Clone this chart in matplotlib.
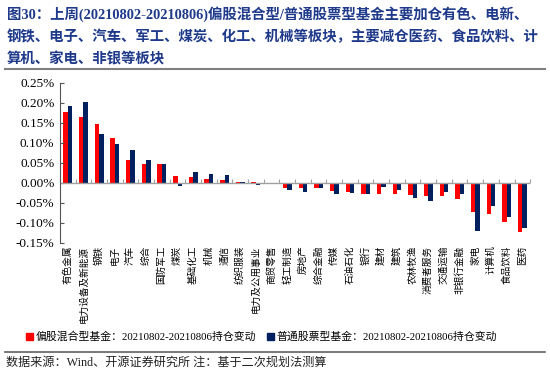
import numpy as np
import matplotlib
matplotlib.use("Agg")
import matplotlib.pyplot as plt
from matplotlib.patches import Patch
from matplotlib.ticker import FuncFormatter

# industries, in chart order
industries = ["有色金属", "电力设备及新能源", "钢铁", "电子", "汽车", "综合", "国防军工",
              "煤炭", "基础化工", "机械", "通信", "纺织服装", "电力及公用事业", "商贸零售",
              "轻工制造", "房地产", "综合金融", "传媒", "石油石化", "银行", "建材", "建筑",
              "农林牧渔", "消费者服务", "交通运输", "非银行金融", "家电", "计算机",
              "食品饮料", "医药"]

# weekly position change, in percent
hybrid = [0.176, 0.165, 0.148, 0.111, 0.058, 0.048, 0.048, 0.017, 0.014, 0.009,
          0.007, 0.002, 0.002, -0.004, -0.012, -0.0125, -0.0125, -0.020, -0.023, -0.028,
          -0.028, -0.028, -0.030, -0.033, -0.033, -0.040, -0.074, -0.077, -0.099, -0.124]
stock = [0.191, 0.2025, 0.121, 0.098, 0.083, 0.057, 0.048, -0.008, 0.026, 0.022,
         0.019, 0.002, -0.0065, -0.001, -0.018, -0.022, -0.013, -0.028, -0.025, -0.028,
         -0.010, -0.019, -0.038, -0.045, -0.022, -0.028, -0.121, -0.058, -0.086, -0.1125]

legend_labels = ["偏股混合型基金：20210802-20210806持仓变动",
                 "普通股票型基金：20210802-20210806持仓变动"]
title_lines = ["图30：上周(20210802-20210806)偏股混合型/普通股票型基金主要加仓有色、电新、",
               "钢铁、电子、汽车、军工、煤炭、化工、机械等板块，主要减仓医药、食品饮料、计",
               "算机、家电、非银等板块"]
source = "数据来源：Wind、开源证券研究所 注：基于二次规划法测算"

RED = "#FF0000"
NAVY = "#002060"
TITLE_C = "#1F3A8A"
fam = ["Liberation Serif", "Noto Sans CJK SC", "DejaVu Sans"]
plt.rcParams["font.family"] = fam

fig = plt.figure(figsize=(5.5, 3.8), dpi=100)
ax = fig.add_axes([0.109, 0.361, 0.855, 0.421])

x = np.arange(len(industries))
w = 0.28
ax.bar(x - w / 2, hybrid, w, color=RED)
ax.bar(x + w / 2, stock, w, color=NAVY)

ax.set_xlim(-0.5, len(industries) - 0.5)
ax.set_ylim(-0.15, 0.25)
ax.set_yticks(np.arange(-0.15, 0.2501, 0.05))
ax.yaxis.set_major_formatter(FuncFormatter(lambda v, p: "%.2f%%" % v))
ax.tick_params(axis="y", direction="in", length=3, labelsize=9.5, pad=4, color="#555555")

for s in ["top", "right", "bottom"]:
    ax.spines[s].set_visible(False)
ax.spines["left"].set_color("#555555")

# category labels under the plot
ax.set_xticks(x)
ax.set_xticklabels(industries, rotation=90, fontsize=6.9, va="top", ha="center")
ax.tick_params(axis="x", length=0, pad=2)

# zero line with boundary ticks
ax.axhline(0, color="#A0A0A0", lw=1)
zero_pos = (0 - (-0.15)) / 0.4
sec = ax.secondary_xaxis(zero_pos)
sec.set_xticks(np.arange(-0.5, len(industries), 1.0))
sec.set_xticklabels([])
sec.tick_params(direction="in", length=3, color="#A0A0A0")
sec.spines["bottom"].set_visible(False)

# legend
handles = [Patch(color=RED), Patch(color=NAVY)]
fig.legend(handles, legend_labels, loc="center", bbox_to_anchor=(0.476, 0.113), ncol=2,
           frameon=False, fontsize=7.8, handlelength=0.6, handleheight=0.6,
           handletextpad=0.3, columnspacing=1.0)

# title
for i, (line, yy) in enumerate(zip(title_lines, [14, 37, 59])):
    fig.text(0.013, 1 - yy / 380, line, color=TITLE_C, fontsize=10.4, fontweight="bold",
             va="center", ha="left")

fig.add_artist(plt.Line2D([0.009, 0.991], [1 - 69 / 380, 1 - 69 / 380], color="#808080", lw=1.5))
fig.add_artist(plt.Line2D([0.009, 0.991], [1 - 352 / 380, 1 - 352 / 380], color="#606060", lw=1.2))

fig.text(0.011, 1 - 363 / 380, source, fontsize=8.7, va="center", ha="left", color="#222222")

fig.savefig("out.png", dpi=100)
